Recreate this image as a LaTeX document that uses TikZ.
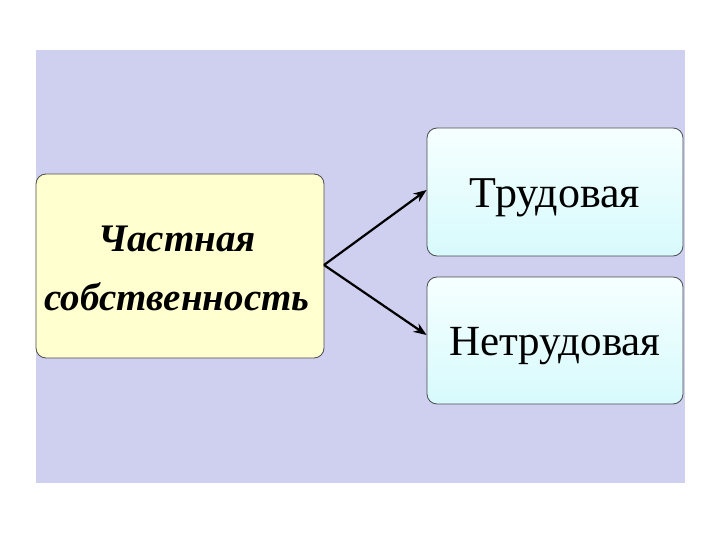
\documentclass[tikz,border=0pt]{standalone}
\usepackage{fontspec}
\setmainfont{Liberation Serif}
\usetikzlibrary{arrows.meta}
\begin{document}
\begin{tikzpicture}[x=1pt,y=-1pt,
  box/.style={draw=black!70,rounded corners=10pt,line width=0.8pt,inner sep=0pt},
  conn/.style={line width=2.2pt,-{Stealth[length=13pt,width=10pt]}}]
\useasboundingbox (0,0) rectangle (720,540);
\fill[white] (0,0) rectangle (720,540);
\fill[fill={rgb,255:red,207;green,207;blue,239}] (36,50) rectangle (685,483);
\node[box,fill={rgb,255:red,255;green,255;blue,208},minimum width=288pt,minimum height=184pt] (L) at (180,266) {};
\node[font=\bfseries\itshape\fontsize{39}{59}\selectfont,align=center] (Lt) at (177,268) {Частная\\собственность};
\node[box,top color={rgb,255:red,246;green,255;blue,255},bottom color={rgb,255:red,215;green,250;blue,252},minimum width=256pt,minimum height=128pt] (T) at (555,192) {};
\node[font=\fontsize{44}{50}\selectfont] (Tt) at (555,198) {Трудовая};
\node[box,top color={rgb,255:red,246;green,255;blue,255},bottom color={rgb,255:red,215;green,250;blue,252},minimum width=256pt,minimum height=127pt] (N) at (555,340.5) {};
\node[font=\fontsize{43}{50}\selectfont] (Nt) at (555,346) {Нетрудовая};
\coordinate (s) at (324,265);
\draw[conn] (s) -- (T.west|-0,190);
\draw[conn] (s) -- (N.west|-0,335);
\end{tikzpicture}
\end{document}
